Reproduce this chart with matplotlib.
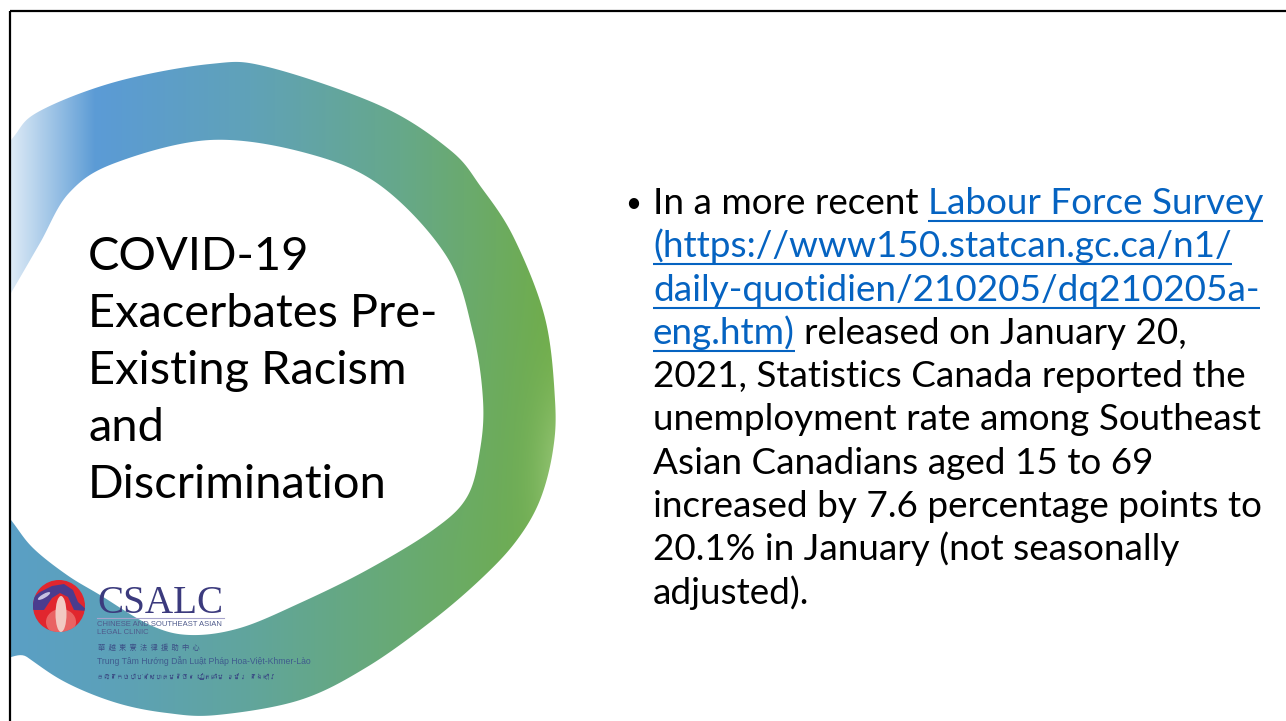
import numpy as np
import matplotlib.pyplot as plt
from matplotlib import font_manager, ft2font
from matplotlib.path import Path
from matplotlib.patches import PathPatch, Circle, Polygon, Ellipse, Rectangle
from matplotlib.colors import to_rgb

W, H = 1286, 721

# ring outline in slide pixels (y down)
outer_x = [-30, 11, 38, 115, 210, 268, 381, 450, 481, 514, 545, 555, 553, 540, 517, 483, 433, 367, 300, 217, 167, 117, 67, 27, -30]
outer_y = [190, 140, 112, 82, 64, 67, 106, 150, 187, 238, 318, 400, 450, 500, 540, 577, 620, 667, 700, 715, 713, 703, 683, 657, 615]
inner_x = [-20, 11, 40, 69, 115, 210, 306, 381, 447, 473, 483, 480, 467, 433, 367, 300, 240, 190, 150, 100, 67, 33, 11, -20]
inner_y = [345, 293, 243, 193, 163, 140, 153, 186, 257, 333, 400, 450, 497, 530, 570, 603, 628, 635, 625, 595, 575, 548, 520, 480]

grad_x = [0, 100, 250, 400, 560]
grad_top = ['#5b9bd5', '#5b9bd5', '#60a2b8', '#66a88a', '#70ad47']
grad_bottom = ['#5a9fc6', '#5ca1bb', '#61a59c', '#68aa74', '#70ad47']

title_lines = ["COVID-19", "Exacerbates Pre-", "Existing Racism", "and", "Discrimination"]

body_lines = [
    [("In a more recent ", False), ("Labour Force Survey", True)],
    [("(https://www150.statcan.gc.ca/n1/", True)],
    [("daily-quotidien/210205/dq210205a-", True)],
    [("eng.htm)", True), (" released on January 20,", False)],
    [("2021, Statistics Canada reported the", False)],
    [("unemployment rate among Southeast", False)],
    [("Asian Canadians aged 15 to 69", False)],
    [("increased by 7.6 percentage points to", False)],
    [("20.1% in January (not seasonally", False)],
    [("adjusted).", False)],
]

logo_lines = ["CHINESE AND SOUTHEAST ASIAN", "LEGAL CLINIC"]
logo_cn = "華越柬寮法律援助中心"
logo_vn = "Trung Tâm Hướng Dẫn Luật Pháp Hoa-Việt-Khmer-Lào"
logo_km = "ក្លីនិកច្បាប់នៃសហគមន៍ចិន វៀតណាម ខ្មែរ និងឡាវ"

LINK = '#0563c1'
FONT = 'Lato'
NARROW = ['Liberation Sans Narrow', 'Liberation Sans']


def smooth(xs, ys, n=24):
    P = np.column_stack([xs, ys]).astype(float)
    N = len(P)
    t = np.linspace(0, 1, n, endpoint=False)[:, None]
    out = []
    for i in range(N):
        p0, p1, p2, p3 = P[i - 1], P[i], P[(i + 1) % N], P[(i + 2) % N]
        out.append(0.5 * (2 * p1 + (-p0 + p2) * t + (2 * p0 - 5 * p1 + 4 * p2 - p3) * t ** 2
                          + (-p0 + 3 * p1 - 3 * p2 + p3) * t ** 3))
    return np.vstack(out)


def family_with(ch):
    # look for an installed font that really has this glyph
    for f in font_manager.fontManager.ttflist:
        try:
            if ft2font.FT2Font(f.fname).get_char_index(ord(ch)):
                return f.name
        except Exception:
            pass
    return None


fig = plt.figure(figsize=(W / 100, H / 100), dpi=100)
ax = fig.add_axes([0, 0, 1, 1])
ax.set_xlim(0, W)
ax.set_ylim(H, 0)
ax.axis('off')
renderer = fig.canvas.get_renderer()

# ring shape
o = smooth(outer_x, outer_y)
i_ = smooth(inner_x, inner_y)[::-1]
verts = np.vstack([o, o[:1], i_, i_[:1]])
codes = ([Path.MOVETO] + [Path.LINETO] * (len(o) - 1) + [Path.CLOSEPOLY]
         + [Path.MOVETO] + [Path.LINETO] * (len(i_) - 1) + [Path.CLOSEPOLY])
ring = PathPatch(Path(verts, codes), facecolor='none', edgecolor='none')
ax.add_patch(ring)

# gradient fill
yy, xx = np.mgrid[0:H, 0:W].astype(float)
top = np.stack([np.interp(xx, grad_x, [to_rgb(c)[k] for c in grad_top]) for k in range(3)], -1)
bot = np.stack([np.interp(xx, grad_x, [to_rgb(c)[k] for c in grad_bottom]) for k in range(3)], -1)
tb = np.clip((yy - 250) / 300, 0, 1)[..., None]
img = top * (1 - tb) + bot * tb
fade = 0.8 * np.clip((95 - xx) / 85, 0, 1) * np.clip((360 - yy) / 60, 0, 1)
img = img * (1 - fade[..., None]) + fade[..., None]
glow = 0.55 * np.exp(-((xx - 568) ** 2 / (2 * 22 ** 2) + (yy - 480) ** 2 / (2 * 65 ** 2)))
img = img * (1 - glow[..., None]) + np.array(to_rgb('#b8dba0')) * glow[..., None]
im = ax.imshow(img, extent=(0, W, H, 0), interpolation='bilinear', zorder=1)
im.set_clip_path(ring)

# outside the frame
ax.add_patch(Rectangle((-5, -5), 14, H + 10, facecolor='white', edgecolor='none', zorder=2))
ax.plot([10, W + 5], [11, 11], color='black', lw=1.6, zorder=3, solid_capstyle='butt')
ax.plot([10, 10], [11, H + 5], color='black', lw=1.6, zorder=3, solid_capstyle='butt')


def width_of(s, size, **kw):
    t = ax.text(0, 0, s, fontsize=size, **kw)
    w = t.get_window_extent(renderer).width
    t.remove()
    return w


def fit(s, target, **kw):
    return 10 * target / width_of(s, 10, **kw)


# title
ts = fit("Existing Racism", 317, family=FONT)
for k, line in enumerate(title_lines):
    ax.text(88, 270 + 57 * k, line, fontsize=ts, family=FONT, color='black',
            va='baseline', ha='left', zorder=5)

# body with links
bs = fit("unemployment rate among Southeast", 610, family=FONT)
space = width_of("a a", bs, family=FONT) - width_of("aa", bs, family=FONT)
ax.text(633, 212, "\u2022", fontsize=bs * 0.75, family=FONT, color='black',
        ha='center', va='baseline', zorder=5)
for k, parts in enumerate(body_lines):
    y = 214 + 43.3 * k
    x = 653
    for txt, link in parts:
        lead = len(txt) - len(txt.lstrip(' '))
        core = txt.strip(' ')
        trail = len(txt) - len(txt.rstrip(' '))
        x += lead * space
        t = ax.text(x, y, core, fontsize=bs, family=FONT, color=LINK if link else 'black',
                    va='baseline', ha='left', zorder=5)
        w = t.get_window_extent(renderer).width
        if link:
            ax.plot([x, x + w], [y + 7, y + 7], color=LINK, lw=1.5, zorder=5, solid_capstyle='butt')
        x += w + trail * space

# logo mark
cx, cy, r = 59, 606, 26
ax.add_patch(Circle((cx, cy), r, facecolor='#e1262e', edgecolor='none', zorder=5))
lower = Ellipse((61, 622), 30, 26, facecolor='#f08c88', edgecolor='none', alpha=0.6, zorder=6)
ax.add_patch(lower)
lower.set_clip_path(Circle((cx, cy), r, transform=ax.transData))
arch = Polygon([(30, 600), (40, 592), (52, 586), (64, 584), (73, 590), (78, 602), (88, 611),
                (74, 610), (68, 597), (60, 593), (52, 598), (44, 610), (30, 610)],
               closed=True, facecolor='#4a3c8e', edgecolor='none', zorder=7)
ax.add_patch(arch)
arch.set_clip_path(Circle((cx, cy), r, transform=ax.transData))
flame = Ellipse((61, 614), 11, 36, facecolor='#f2c9c2', edgecolor='none', zorder=8)
ax.add_patch(flame)
flame.set_clip_path(Circle((cx, cy), r, transform=ax.transData))
ax.add_patch(Ellipse((44, 596), 4, 14, angle=60, facecolor='#c5c0e2', edgecolor='none', zorder=8))

# logo words
cs = fit("CSALC", 126, family='Liberation Serif')
ax.text(97, 613, "CSALC", fontsize=cs, family='Liberation Serif', color='#3b3a7d',
        va='baseline', zorder=6)
ax.plot([97, 224], [617.5, 617.5], color='#a7a4cc', lw=0.8, zorder=6)
ls = fit(logo_lines[0], 125, family=NARROW)
for k, line in enumerate(logo_lines):
    ax.text(97, 624 + 9 * k, line, fontsize=ls, family=NARROW, color='#4f5b8c',
            va='center', zorder=6)
ax.text(98, 648, "  ".join(logo_cn), fontsize=ls * 0.95, family=['Noto Sans CJK TC', 'DejaVu Sans'],
        color='#3c4f86', va='center', zorder=6)
vs = fit(logo_vn, 214, family=NARROW)
ax.text(97, 661, logo_vn, fontsize=vs, family=NARROW, color='#3f5b8e', va='center', zorder=6)
km_font = family_with(logo_km[0])
if km_font:
    kms = fit(logo_km, 180, family=[km_font, 'DejaVu Sans'])
    ax.text(97, 676, logo_km, fontsize=kms, family=[km_font, 'DejaVu Sans'], color='#3c4f86',
            va='center', zorder=6)

fig.savefig('out.png', dpi=100, facecolor='white')
